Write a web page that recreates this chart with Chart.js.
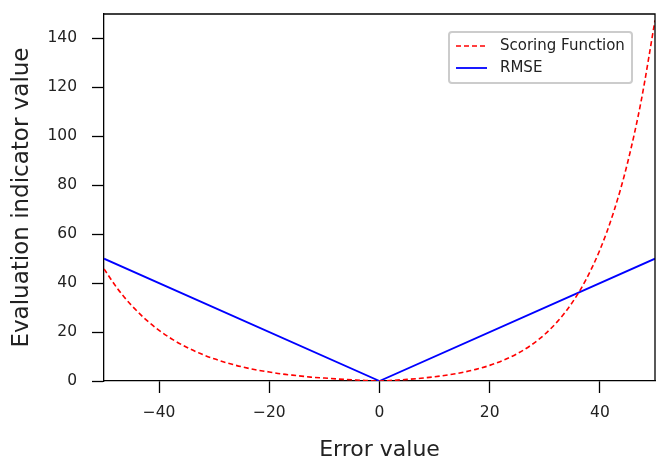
<!DOCTYPE html>
<html>
<head>
<meta charset="utf-8">
<script src="https://cdn.jsdelivr.net/npm/chart.js@4.4.0/dist/chart.umd.min.js"></script>
<style>
  html, body { margin: 0; padding: 0; background: #fff; }
  #wrap { width: 656px; height: 456px; }
</style>
</head>
<body>
<div id="wrap"><canvas id="chart_score"></canvas></div>
<script>
// error values (x) and the two curves
const errorValues = [-50, -47.5, -45, -42.5, -40, -37.5, -35, -32.5, -30, -27.5, -25, -22.5, -20, -17.5, -15, -12.5, -10, -7.5, -5, -2.5,
  0, 2.5, 5, 7.5, 10, 12.5, 15, 17.5, 20, 22.5, 25, 27.5, 30, 32.5, 35, 37.5, 40, 42.5, 45, 47.5, 50];
const scoringValues = [45.8, 37.6, 30.9, 25.3, 20.7, 16.9, 13.8, 11.2, 9.05, 7.3, 5.8, 4.6, 3.7, 2.8, 2.2, 1.6, 1.2, 0.8, 0.5, 0.2,
  0, 0.28, 0.65, 1.12, 1.72, 2.49, 3.48, 4.75, 6.39, 8.49, 11.18, 14.64, 19.09, 24.79, 32.12, 41.52, 53.6, 69.1, 89.0, 114.6, 147.4];
const rmseX = [-50, 0, 50];
const rmseY = [50, 0, 50];
const seriesNames = ["Scoring Function", "RMSE"];
const xTicks = [-40, -20, 0, 20, 40];
const yTicks = [0, 20, 40, 60, 80, 100, 120, 140];

const scoreData = errorValues.map((x, i) => ({ x: x, y: scoringValues[i] }));
const rmseData = rmseX.map((x, i) => ({ x: x, y: rmseY[i] }));

// matplotlib-like legend box, top right
const boxLegend = {
  id: "boxLegend",
  afterDraw(chart) {
    const c = chart.ctx;
    const x0 = 449, y0 = 32, w = 183, h = 51;
    c.save();
    c.fillStyle = "rgba(255,255,255,0.85)";
    c.strokeStyle = "#cccccc";
    c.lineWidth = 2;
    c.beginPath();
    c.roundRect(x0, y0, w, h, 3);
    c.fill();
    c.stroke();
    chart.data.datasets.forEach((ds, i) => {
      const ly = y0 + 14 + i * 22;
      c.strokeStyle = ds.borderColor;
      c.lineWidth = ds.borderWidth;
      c.setLineDash(ds.borderDash || []);
      c.beginPath();
      c.moveTo(456, ly);
      c.lineTo(487, ly);
      c.stroke();
      c.setLineDash([]);
      c.fillStyle = "#222";
      c.font = "15px 'DejaVu Sans'";
      c.textBaseline = "middle";
      c.fillText(ds.label, 500, ly);
    });
    c.restore();
  },
};

const ctx = document.getElementById("chart_score").getContext("2d");
const myChart = new Chart(ctx, {
  type: "line",
  data: {
    datasets: [
      {
        label: seriesNames[0],
        data: scoreData,
        borderColor: "#ff0000",
        borderWidth: 1.6,
        borderDash: [5, 3],
        pointRadius: 0,
        cubicInterpolationMode: "monotone",
        fill: false,
      },
      {
        label: seriesNames[1],
        data: rmseData,
        borderColor: "#0000ff",
        borderWidth: 1.8,
        pointRadius: 0,
        tension: 0,
        fill: false,
      },
    ],
  },
  options: {
    animation: false,
    responsive: true,
    maintainAspectRatio: false,
    layout: { padding: { top: 14, right: 1, left: 0, bottom: 0 } },
    plugins: {
      legend: { display: false },
      tooltip: { enabled: false },
    },
    scales: {
      x: {
        type: "linear",
        min: -50,
        max: 50,
        afterBuildTicks: (s) => { s.ticks = xTicks.map((v) => ({ value: v })); },
        afterFit: (s) => { s.height = 75; s.paddingLeft = 0; s.paddingRight = 0; },
        ticks: {
          color: "#222",
          font: { family: "DejaVu Sans", size: 15.5 },
          padding: 11,
          maxRotation: 0,
          callback: (v) => (v < 0 ? "\u2212" + Math.abs(v) : v),
        },
        grid: { drawOnChartArea: false, tickLength: 12, color: "#000", tickWidth: 1.3 },
        border: { color: "#000", width: 1.3 },
        title: {
          display: true,
          text: "Error value",
          color: "#222",
          font: { family: "DejaVu Sans", size: 22 },
          padding: { top: 0, bottom: -7 },
        },
      },
      y: {
        min: 0,
        max: 150,
        afterBuildTicks: (s) => { s.ticks = yTicks.map((v) => ({ value: v })); },
        afterFit: (s) => { s.width = 104; s.paddingTop = 0; s.paddingBottom = 0; },
        ticks: {
          color: "#222",
          font: { family: "DejaVu Sans", size: 15.5 },
          padding: 15,
        },
        grid: { drawOnChartArea: false, tickLength: 12, color: "#000", tickWidth: 1.3 },
        border: { color: "#000", width: 1.3 },
        title: {
          display: true,
          text: "Evaluation indicator value",
          color: "#222",
          font: { family: "DejaVu Sans", size: 23 },
          padding: { top: 8, bottom: 4 },
        },
      },
    },
  },
  plugins: [
    boxLegend,
    {
      id: "topRightFrame",
      afterDraw(chart) {
        const a = chart.chartArea, c = chart.ctx;
        c.save();
        c.strokeStyle = "#000";
        c.lineWidth = 1.3;
        c.beginPath();
        c.moveTo(a.left, a.top);
        c.lineTo(a.right, a.top);
        c.lineTo(a.right, a.bottom);
        c.stroke();
        c.restore();
      },
    },
  ],
});
</script>
</body>
</html>
